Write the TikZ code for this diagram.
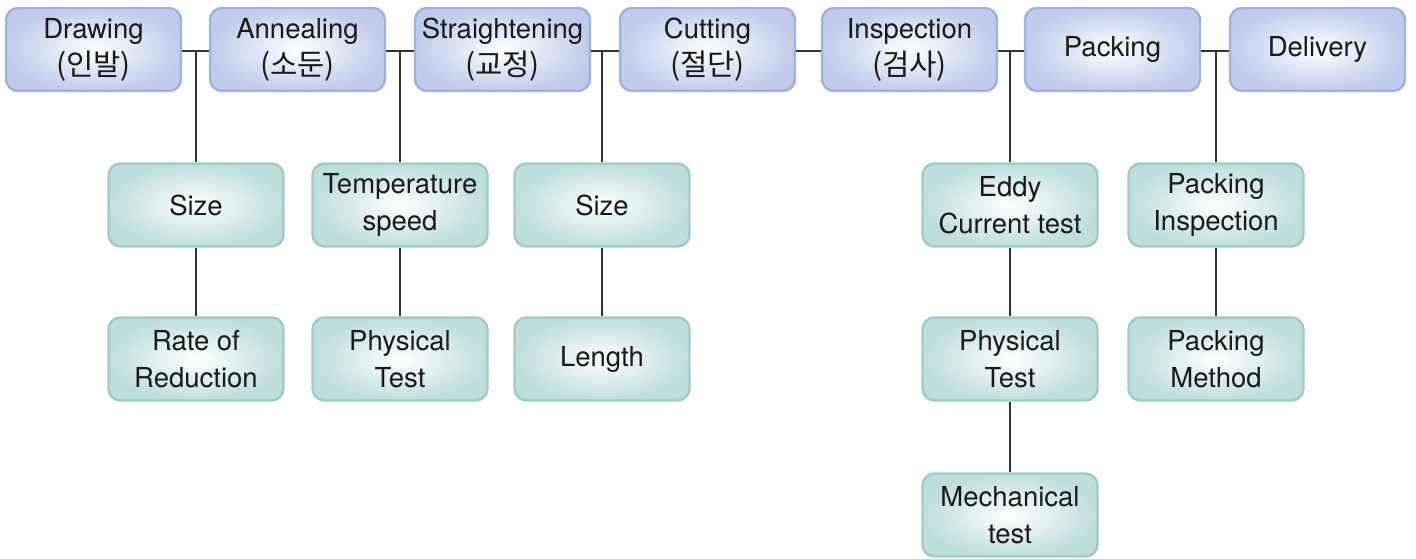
\documentclass[tikz,border=0pt]{standalone}
\usepackage{fontspec}
\setmainfont{TeX Gyre Heros}
\newfontfamily\kr{Noto Sans CJK KR}[Scale=1.08]
\definecolor{topborder}{HTML}{9DB3DE}
\definecolor{topfill}{HTML}{BFCBEB}
\definecolor{subborder}{HTML}{9CCBC8}
\definecolor{subfill}{HTML}{BDDDDB}
\begin{document}
\begin{tikzpicture}[x=1pt,y=-1pt,
  box/.style={rounded corners=12pt, line width=2.4pt, minimum width=175pt, minimum height=83pt,
    align=center, font=\fontsize{27.5}{37}\selectfont, text=black!90, inner sep=0pt},
  topbox/.style={box, draw=topborder, inner color=white, outer color=topfill},
  subbox/.style={box, draw=subborder, inner color=white, outer color=subfill},
  conn/.style={line width=1.2pt, draw=black!80}]
\useasboundingbox (0,0) rectangle (1416,559);
% top row
\node[topbox] (t1) at (93.5,49.5) {Drawing\\{\kr(인발)}};
\node[topbox] (t2) at (297.5,49.5) {Annealing\\{\kr(소둔)}};
\node[topbox] (t3) at (502.5,49.5) {Straightening\\{\kr(교정)}};
\node[topbox] (t4) at (707.5,49.5) {Cutting\\{\kr(절단)}};
\node[topbox] (t5) at (909.5,49.5) {Inspection\\{\kr(검사)}};
\node[topbox] (t6) at (1112.5,49.5) {Packing};
\node[topbox] (t7) at (1317.5,49.5) {Delivery};
% sub boxes
\node[subbox] (a1) at (196,205) {Size};
\node[subbox] (a2) at (196,359) {Rate of\\Reduction};
\node[subbox] (b1) at (400,205) {Temperature\\speed};
\node[subbox] (b2) at (400,359) {Physical\\Test};
\node[subbox] (c1) at (602,205) {Size};
\node[subbox] (c2) at (602,359) {Length};
\node[subbox] (d1) at (1010,205) {Eddy\\Current test};
\node[subbox] (d2) at (1010,359) {Physical\\Test};
\node[subbox] (d3) at (1010,515) {Mechanical\\test};
\node[subbox] (e1) at (1216,205) {Packing\\Inspection};
\node[subbox] (e2) at (1216,359) {Packing\\Method};
% horizontal connectors
\foreach \p/\q in {t1/t2,t2/t3,t3/t4,t4/t5,t5/t6,t6/t7}
  \draw[conn] ([yshift=-1.5pt]\p.east) -- ([yshift=-1.5pt]\q.west);
% branch coordinates
\coordinate (ja) at (a1.north |- 0,51);
\coordinate (jb) at (b1.north |- 0,51);
\coordinate (jc) at (c1.north |- 0,51);
\coordinate (jd) at (d1.north |- 0,51);
\coordinate (je) at (e1.north |- 0,51);
\draw[conn] (ja) -- (a1.north);
\draw[conn] (jb) -- (b1.north);
\draw[conn] (jc) -- (c1.north);
\draw[conn] (jd) -- (d1.north);
\draw[conn] (je) -- (e1.north);
\draw[conn] (a1) -- (a2);
\draw[conn] (b1) -- (b2);
\draw[conn] (c1) -- (c2);
\draw[conn] (d1) -- (d2);
\draw[conn] (d2) -- (d3);
\draw[conn] (e1) -- (e2);
\end{tikzpicture}
\end{document}
